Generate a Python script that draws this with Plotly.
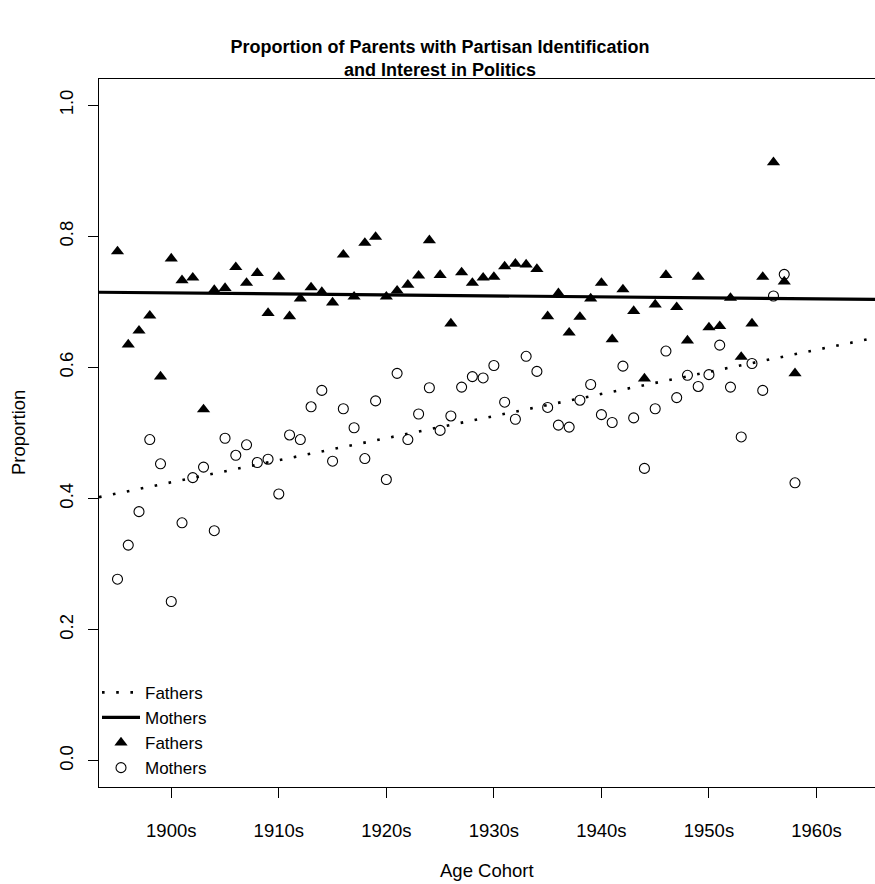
import numpy as np
import plotly.graph_objects as go

# Birth cohorts (one point per year)
cohort_years = [
    1895, 1896, 1897, 1898, 1899, 1900, 1901, 1902, 1903, 1904,
    1905, 1906, 1907, 1908, 1909, 1910, 1911, 1912, 1913, 1914,
    1915, 1916, 1917, 1918, 1919, 1920, 1921, 1922, 1923, 1924,
    1925, 1926, 1927, 1928, 1929, 1930, 1931, 1932, 1933, 1934,
    1935, 1936, 1937, 1938, 1939, 1940, 1941, 1942, 1943, 1944,
    1945, 1946, 1947, 1948, 1949, 1950, 1951, 1952, 1953, 1954,
    1955, 1956, 1957, 1958,
]

# Proportion of fathers with partisan identification and interest in politics
fathers = [
    0.777, 0.635, 0.656, 0.679, 0.586, 0.766, 0.733, 0.737, 0.536, 0.718,
    0.721, 0.753, 0.729, 0.744, 0.683, 0.738, 0.678, 0.705, 0.722, 0.715,
    0.699, 0.772, 0.708, 0.790, 0.799, 0.708, 0.717, 0.726, 0.740, 0.794,
    0.741, 0.667, 0.745, 0.729, 0.737, 0.738, 0.754, 0.758, 0.757, 0.750,
    0.678, 0.713, 0.653, 0.677, 0.705, 0.729, 0.643, 0.719, 0.686, 0.583,
    0.696, 0.741, 0.692, 0.641, 0.738, 0.661, 0.663, 0.706, 0.616, 0.667,
    0.738, 0.913, 0.731, 0.591,
]

# Proportion of mothers with partisan identification and interest in politics
mothers = [
    0.277, 0.329, 0.380, 0.490, 0.453, 0.243, 0.363, 0.432, 0.448, 0.351,
    0.492, 0.466, 0.482, 0.455, 0.460, 0.407, 0.497, 0.490, 0.540, 0.565,
    0.457, 0.537, 0.508, 0.461, 0.549, 0.429, 0.591, 0.490, 0.529, 0.569,
    0.504, 0.526, 0.570, 0.586, 0.584, 0.603, 0.547, 0.521, 0.617, 0.594,
    0.539, 0.512, 0.509, 0.550, 0.574, 0.528, 0.516, 0.602, 0.523, 0.446,
    0.537, 0.625, 0.554, 0.588, 0.571, 0.589, 0.634, 0.570, 0.494, 0.606,
    0.565, 0.709, 0.742, 0.424,
]

decade_ticks = [1900, 1910, 1920, 1930, 1940, 1950, 1960]
decade_labels = ["1900s", "1910s", "1920s", "1930s", "1940s", "1950s", "1960s"]
prop_ticks = [0.0, 0.2, 0.4, 0.6, 0.8, 1.0]

x_range = [1893.28, 1965.44]
y_range = [-0.04, 1.04]

# Linear trends, drawn across the full width of the panel
xs = np.array(cohort_years, dtype=float)
f_slope, f_icpt = np.polyfit(xs, np.array(fathers), 1)
m_slope, m_icpt = np.polyfit(xs, np.array(mothers), 1)
line_x = np.array(x_range)
fathers_trend = f_icpt + f_slope * line_x
mothers_trend = m_icpt + m_slope * line_x

FONT = "Liberation Sans, Arial, sans-serif"
fs = 18.5

fig = go.Figure()

fig.add_trace(go.Scatter(
    x=line_x, y=mothers_trend, mode="lines", name="Fathers",
    line=dict(color="black", width=2.6, dash="2.6px,11.6px"),
))
fig.add_trace(go.Scatter(
    x=line_x, y=fathers_trend, mode="lines", name="Mothers",
    line=dict(color="black", width=3.2),
))
fig.add_trace(go.Scatter(
    x=cohort_years, y=fathers, mode="markers", name="Fathers",
    marker=dict(symbol="triangle-up", size=11.5, color="black", line=dict(width=0)),
))
fig.add_trace(go.Scatter(
    x=cohort_years, y=mothers, mode="markers", name="Mothers",
    marker=dict(symbol="circle-open", size=10, color="black", line=dict(width=1.1, color="black")),
))

fig.update_layout(
    width=875, height=884,
    margin=dict(l=99, r=0, t=79, b=97),
    paper_bgcolor="white", plot_bgcolor="white",
    font=dict(family=FONT, size=fs, color="black"),
    title=dict(
        text="<b>Proportion of Parents with Partisan Identification<br>and Interest in Politics</b>",
        x=440 / 875, xref="container", xanchor="center",
        y=1 - 52.5 / 884, yref="container", yanchor="middle",
        font=dict(family=FONT, size=18, color="black"),
    ),
    showlegend=True,
    legend=dict(
        x=-2 / 776, xanchor="left", y=0.1585, yanchor="top",
        bgcolor="rgba(0,0,0,0)", borderwidth=0,
        font=dict(family=FONT, size=17, color="black"),
        itemwidth=38, tracegroupgap=0,
    ),
    xaxis=dict(
        range=x_range, tickmode="array", tickvals=decade_ticks, ticktext=decade_labels,
        showgrid=False, zeroline=False, showline=True, linecolor="black", linewidth=1,
        mirror=True, ticks="outside", ticklen=10, tickwidth=1, tickcolor="black",
        ticklabelstandoff=17,
    ),
    yaxis=dict(
        range=y_range, tickmode="array", tickvals=prop_ticks, tickformat=".1f",
        showgrid=False, zeroline=False, showline=True, linecolor="black", linewidth=1,
        ticks="outside", ticklen=10, tickwidth=1, tickcolor="black",
        tickangle=-90, ticklabelstandoff=8,
    ),
    annotations=[
        dict(text="Age Cohort", xref="paper", yref="paper", x=(487 - 99) / 776,
             y=(787 - 870) / 708, showarrow=False, xanchor="center", yanchor="middle",
             font=dict(family=FONT, size=fs)),
        dict(text="Proportion", xref="paper", yref="paper", x=(18 - 99) / 776,
             y=0.5, textangle=-90, showarrow=False, xanchor="center", yanchor="middle",
             font=dict(family=FONT, size=fs)),
    ],
)

fig.write_html("out.html")
